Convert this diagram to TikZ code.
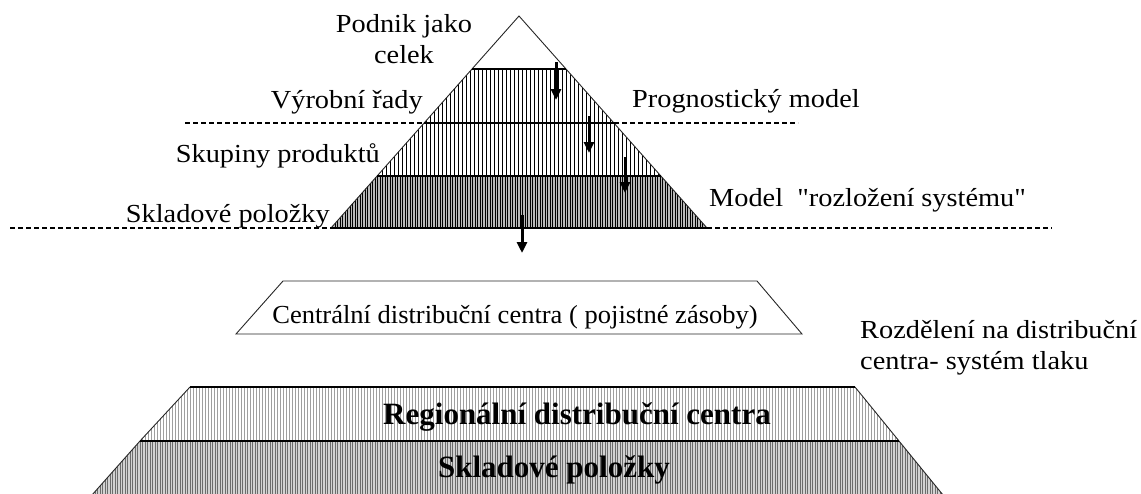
\documentclass[tikz,border=0pt]{standalone}
\usepackage{fontspec}
\setmainfont{Liberation Serif}
\newfontfamily\lblfont{Liberation Serif}[FakeStretch=1.09]
\newfontfamily\centralfont{Liberation Serif}[FakeStretch=1.02]
\newfontfamily\plainserif{Liberation Serif}
\usetikzlibrary{arrows.meta}
\tikzset{
  lbl/.style={inner sep=0pt, font=\lblfont\fontsize{26}{31}\selectfont},
  boldlbl/.style={inner sep=0pt, font=\plainserif\bfseries\fontsize{31}{34}\selectfont},
  arr/.style={line width=3pt, -{Triangle[length=11pt,width=10pt]}},
  dashline/.style={line width=1.4pt, dash pattern=on 5pt off 3pt},
  edge/.style={line width=0.9pt, black!85},
  band/.style={line width=1.5pt, black}
}
\begin{document}
\begin{tikzpicture}[x=1pt,y=-1pt]
\useasboundingbox (0,0) rectangle (1141,493);

% ---------- pyramid hatching ----------
\begin{scope}
  \clip (472,69) -- (566,69) -- (661,176) -- (377,176) -- cycle;
  \foreach \x in {370,374,...,672} \draw[line width=0.9pt] (\x,60) -- (\x,180);
\end{scope}
\begin{scope}
  \clip (377,176) -- (661,176) -- (707,228) -- (331,228) -- cycle;
  \fill[gray!55] (320,170) rectangle (720,232);
  \foreach \x in {330,332.5,...,710} \draw[line width=0.8pt] (\x,170) -- (\x,232);
\end{scope}

% ---------- pyramid outline ----------
\coordinate (apex) at (519,16);
\coordinate (bl) at (331,228);
\coordinate (br) at (707,228);
\draw[edge] (bl) -- (apex) -- (br);
\draw[band] (472,69) -- (566,69);
\draw[band] (424,123) -- (614,123);
\draw[band] (377,176) -- (661,176);
\draw[band] (bl) -- (br);

% ---------- dashed lines ----------
\coordinate (d1a) at (185,123);  \coordinate (d1b) at (424,123);
\coordinate (d2a) at (614,123);  \coordinate (d2b) at (798,123);
\coordinate (d3a) at (10,228);   \coordinate (d4b) at (1052,228);
\draw[dashline] (d1a) -- (d1b);
\draw[dashline] (d2a) -- (d2b);
\draw[dashline] (d3a) -- (bl);
\draw[dashline] (br) -- (d4b);

% ---------- arrows ----------
\coordinate (a1s) at (556,62);  \coordinate (a1e) at (556,100);
\coordinate (a2s) at (589,116); \coordinate (a2e) at (589,153);
\coordinate (a3s) at (625,157); \coordinate (a3e) at (625,193);
\coordinate (a4s) at (522,215); \coordinate (a4e) at (522,253);
\draw[arr] (a1s) -- (a1e);
\draw[arr] (a2s) -- (a2e);
\draw[arr] (a3s) -- (a3e);
\draw[arr] (a4s) -- (a4e);

% ---------- pyramid labels ----------
\node[lbl, anchor=base] (podnik1) at (404,32) {Podnik jako};
\node[lbl, anchor=base] (podnik2) at (404,63) {celek};
\node[lbl, anchor=base east] (vyrobni) at (423,108) {Výrobní řady};
\node[lbl, anchor=base east] (skupiny) at (380,162) {Skupiny produktů};
\node[lbl, anchor=base east] (sklad1) at (330,222) {Skladové položky};
\node[lbl, anchor=base west] (progn) at (632,107) {Prognostický model};
\node[lbl, anchor=base west] (model) at (709,206) {Model\ \ "rozložení systému"};

% ---------- central trapezoid ----------
\draw[edge] (283,281) -- (757,281) -- (802,334) -- (236,334) -- cycle;
\node[inner sep=0pt, font=\centralfont\fontsize{26}{31}\selectfont, anchor=base] (central) at (515,323) {Centrální distribuční centra ( pojistné zásoby)};

\node[lbl, anchor=base west] (rozdel1) at (860,338) {Rozdělení na distribuční};
\node[lbl, anchor=base west] (rozdel2) at (860,369) {centra- systém tlaku};

% ---------- bottom trapezoid ----------
\begin{scope}
  \clip (190,387) -- (855,387) -- (899,441) -- (140,441) -- cycle;
  \foreach \x in {130,133,...,910} \draw[line width=0.7pt, gray!75] (\x,380) -- (\x,445);
\end{scope}
\begin{scope}
  \clip (140,441) -- (899,441) -- (943,495) -- (92,495) -- cycle;
  \fill[gray!35] (80,438) rectangle (960,500);
  \foreach \x in {85,87.5,...,955} \draw[line width=0.8pt, gray!85!black] (\x,438) -- (\x,500);
\end{scope}
\draw[edge] (92,495) -- (140,441) -- (190,387);
\draw[edge] (855,387) -- (899,441) -- (943,495);
\draw[band] (190,387) -- (855,387);
\draw[band] (140,441) -- (899,441);

\node[boldlbl, anchor=base] (regional) at (577,424) {Regionální distribuční centra};
\node[boldlbl, anchor=base] (sklad2) at (554,477) {Skladové položky};
\end{tikzpicture}
\end{document}
